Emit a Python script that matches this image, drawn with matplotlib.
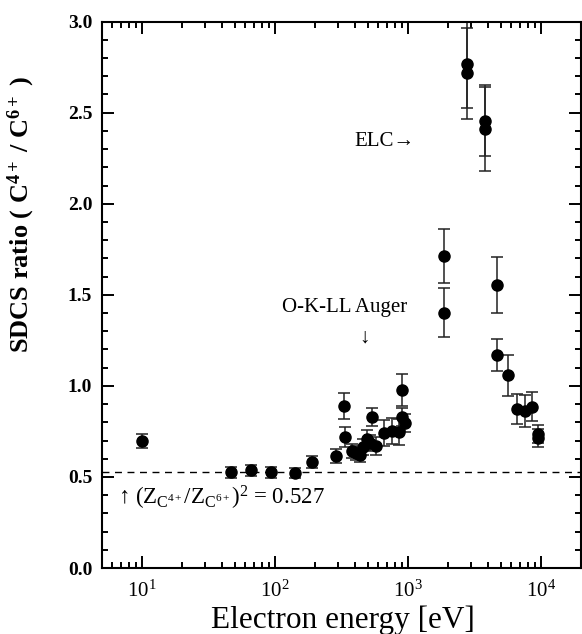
import numpy as np
import matplotlib
matplotlib.use('Agg')
import matplotlib.pyplot as plt
from matplotlib.ticker import MultipleLocator, LogLocator, NullFormatter

plt.rcParams['font.family'] = ['Liberation Serif', 'DejaVu Serif']
plt.rcParams['mathtext.fontset'] = 'custom'
plt.rcParams['mathtext.rm'] = 'Liberation Serif'
plt.rcParams['mathtext.it'] = 'Liberation Serif:italic'
plt.rcParams['mathtext.bf'] = 'Liberation Serif:bold'

# 電子エネルギー [eV] と SDCS 比
energy = [10, 47, 66, 94, 142, 191, 289, 332, 338, 381, 408, 438, 461, 494,
          521, 540, 578, 664, 763, 862, 907, 907, 955, 1875, 1875, 2806, 2806,
          3793, 3793, 4720, 4720, 5700, 6607, 7590, 8550, 9550, 9550]
ratio = [0.697, 0.527, 0.538, 0.527, 0.522, 0.582, 0.615, 0.89, 0.72, 0.643,
         0.632, 0.62, 0.664, 0.708, 0.686, 0.829, 0.67, 0.741, 0.752, 0.747,
         0.977, 0.829, 0.796, 1.713, 1.402, 2.768, 2.716, 2.456, 2.409, 1.554,
         1.17, 1.058, 0.872, 0.862, 0.886, 0.736, 0.712]
err = [0.04, 0.03, 0.03, 0.03, 0.03, 0.035, 0.04, 0.07, 0.055, 0.04, 0.04,
       0.04, 0.045, 0.05, 0.045, 0.05, 0.05, 0.07, 0.07, 0.07, 0.088, 0.05,
       0.05, 0.15, 0.135, 0.24, 0.25, 0.196, 0.23, 0.152, 0.09, 0.112, 0.083,
       0.09, 0.08, 0.05, 0.05]
z_ratio = 0.527


def draw():
    fig = plt.figure(figsize=(5.82, 6.34), dpi=100)
    ax = fig.add_axes([0.175, 0.104, 0.823, 0.862])

    ax.errorbar(energy, ratio, yerr=err, fmt='o', color='black', ms=8,
                ecolor='#222222', elinewidth=1.1, capsize=4.5, capthick=1.1)
    ax.axhline(z_ratio, color='black', lw=1.0, ls=(0, (5, 4)))

    ax.set_xscale('log')
    ax.set_xlim(5, 2e4)
    ax.set_ylim(0, 3.0)

    ax.yaxis.set_major_locator(MultipleLocator(0.5))
    ax.yaxis.set_minor_locator(MultipleLocator(0.1))
    ax.xaxis.set_major_locator(LogLocator(base=10, numticks=10))
    ax.xaxis.set_minor_locator(LogLocator(base=10, subs=np.arange(2, 10), numticks=20))
    ax.xaxis.set_minor_formatter(NullFormatter())
    ax.yaxis.set_major_formatter(plt.FormatStrFormatter('%.1f'))

    ax.tick_params(which='both', direction='in', top=True, right=True, width=1.4)
    ax.tick_params(which='major', length=8.5)
    ax.tick_params(which='minor', length=4.3)
    ax.tick_params(axis='x', which='major', labelsize=15, pad=9)
    ax.tick_params(axis='y', which='major', labelsize=14, pad=7)
    for lab in ax.get_yticklabels():
        lab.set_fontweight('bold')
    for s in ax.spines.values():
        s.set_linewidth(1.5)

    ax.set_xlabel('Electron energy [eV]', fontsize=22.5)
    ax.xaxis.set_label_coords(0.503, -0.068)
    ax.set_ylabel(r'SDCS ratio ( C$^{\mathbf{4+}}$ / C$^{\mathbf{6+}}$ )',
                  fontsize=19, fontweight='bold')
    ax.yaxis.set_label_coords(-0.135, 0.646)

    ax.text(395, 2.34, 'ELC→', fontsize=15, ha='left', va='center')
    ax.text(335, 1.43, 'O-K-LL Auger', fontsize=15, ha='center', va='center')
    ax.text(470, 1.26, '↓', fontsize=15, ha='center', va='center')
    ax.text(6.6, 0.385,
            r'↑ (Z$_{\mathrm{C}^{4+}}$/Z$_{\mathrm{C}^{6+}}$)$^{2}$ = 0.527',
            fontsize=16.5, ha='left', va='center')

    fig.savefig('out.png', dpi=100)


if __name__ == '__main__':
    draw()
